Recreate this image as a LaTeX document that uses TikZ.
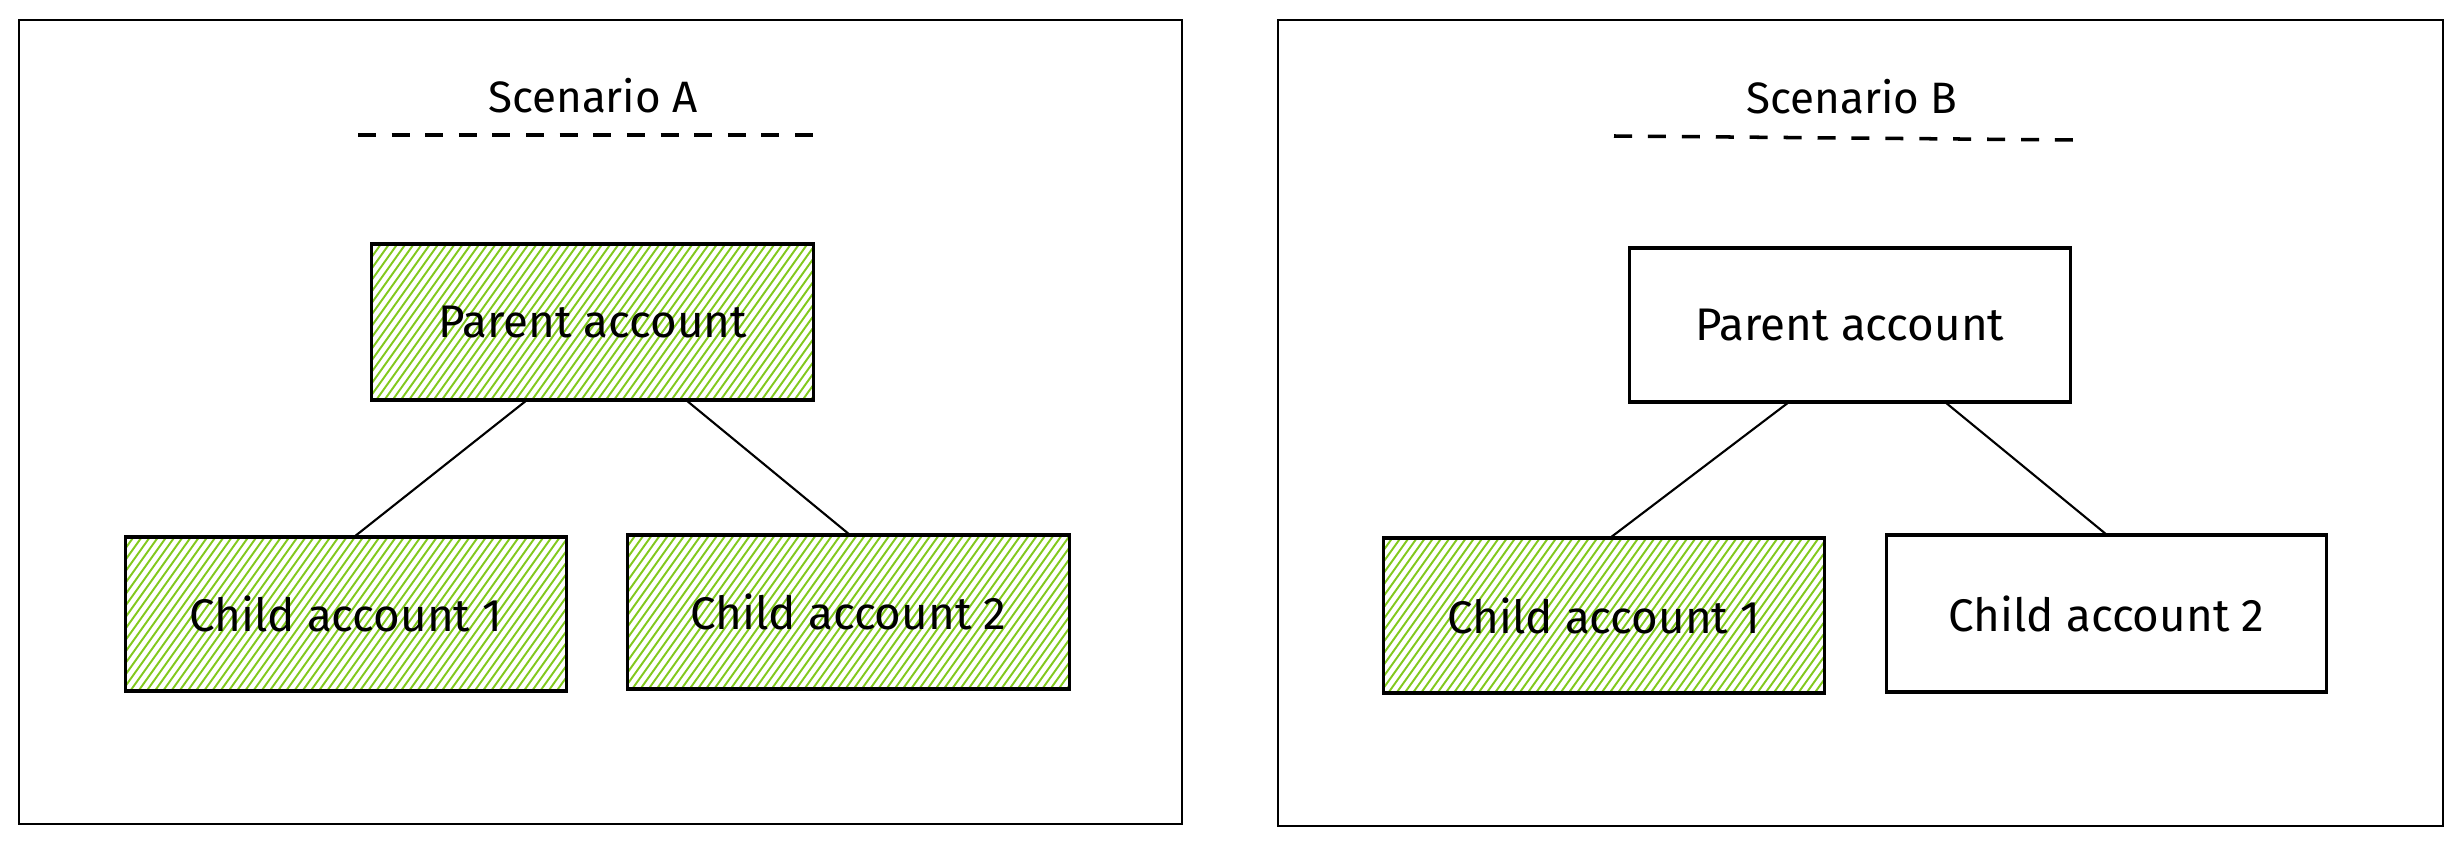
\documentclass[tikz,border=0pt]{standalone}
\usepackage{fontspec}
\setmainfont{Fira Sans}
\usetikzlibrary{calc}
\definecolor{hatchgreen}{HTML}{82C91E}
\tikzset{
  frame/.style={draw=black, line width=0.8pt},
  titletext/.style={font=\fontsize{12.5}{15}\selectfont, inner sep=0pt},
  dashrule/.style={draw=black, line width=1pt},
  acct/.style={draw=black, line width=0.9pt, font=\fontsize{13}{16}\selectfont,
    minimum width=4.4cm, minimum height=1.55cm, inner sep=0pt, outer sep=0pt},
  hatchline/.style={draw=hatchgreen, line width=0.55pt},
  hatched/.style={acct, path picture={
      \foreach \k in {-16,...,56}
        \draw[hatchline] ($(path picture bounding box.south west)+(\k*8.2,6)$) -- ++(125,-175);
    }},
  link/.style={draw=black, line width=0.6pt},
}
\begin{document}
\begin{tikzpicture}[x=0.01cm, y=-0.01cm]
\useasboundingbox (0,0) rectangle (2462,846);
% scenario frames
\draw[frame] (19,20) rectangle (1182,824);
\draw[frame] (1278,20) rectangle (2443,826);
% titles
\node[titletext] (tA) at (593,96) {Scenario A};
\node[titletext] (tB) at (1852,97) {Scenario B};
\coordinate (dA1) at (358,135); \coordinate (dA2) at (813,135);
\coordinate (dB1) at (1614,136); \coordinate (dB2) at (2073,140);
\draw[dashrule, dash pattern=on 0.18cm off 0.156cm] (dA1) -- (dA2);
\draw[dashrule, dash pattern=on 0.18cm off 0.159cm] (dB1) -- (dB2);
% scenario A
\node[hatched, minimum width=4.41cm, minimum height=1.56cm] (pA) at (592.5,322) {Parent account};
\node[hatched, minimum width=4.40cm, minimum height=1.54cm] (cA1) at (346,614) {Child account 1};
\node[hatched, minimum width=4.41cm, minimum height=1.54cm] (cA2) at (848.5,612) {Child account 2};
\draw[link] ($(pA.south)+(-65.5,0)$) -- ($(cA1.north)+(8,0)$);
\draw[link] ($(pA.south)+(93.5,0)$) -- ($(cA2.north)+(1.5,0)$);
% scenario B
\node[acct, minimum width=4.40cm, minimum height=1.54cm] (pB) at (1850,325) {Parent account};
\node[hatched, minimum width=4.40cm, minimum height=1.55cm] (cB1) at (1604,615.5) {Child account 1};
\node[acct, minimum width=4.39cm, minimum height=1.57cm] (cB2) at (2106.5,613.5) {Child account 2};
\draw[link] ($(pB.south)+(-61,0)$) -- ($(cB1.north)+(6,0)$);
\draw[link] ($(pB.south)+(95,0)$) -- ($(cB2.north)+(0.5,0)$);
\end{tikzpicture}
\end{document}
